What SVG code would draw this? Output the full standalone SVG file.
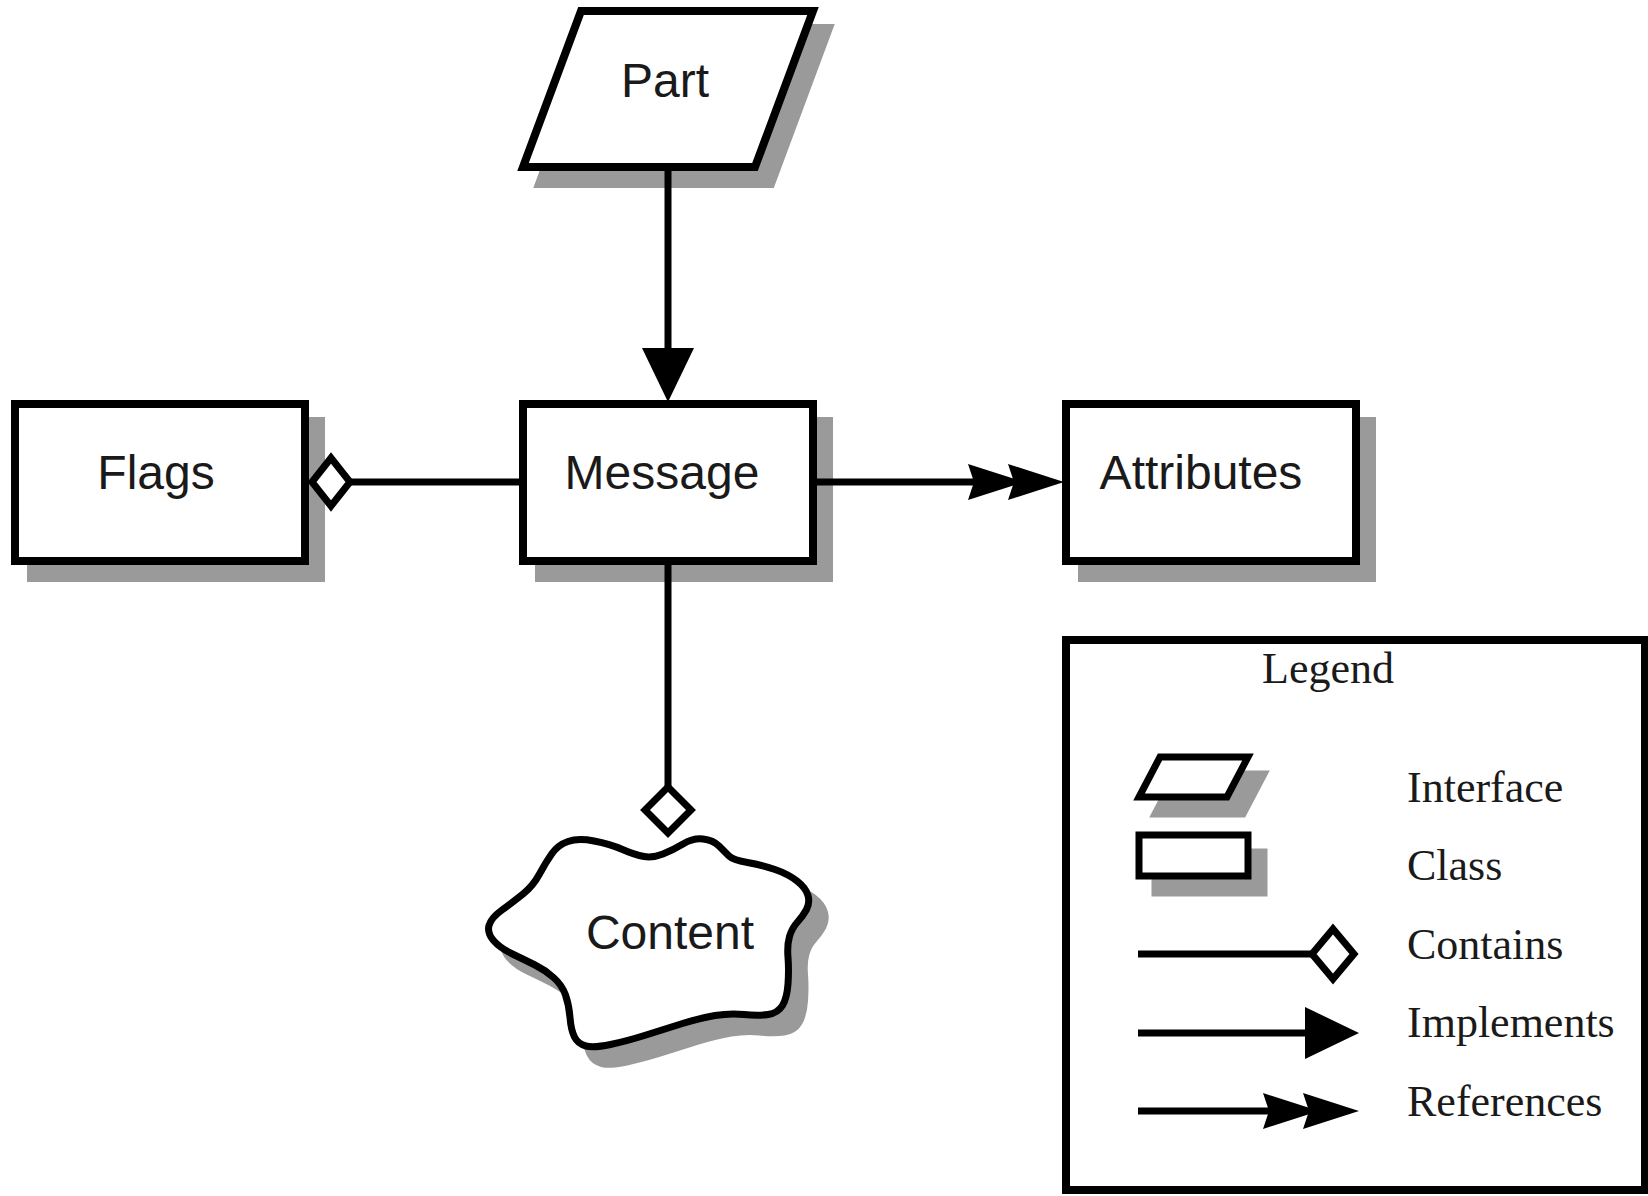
<svg xmlns="http://www.w3.org/2000/svg" xmlns:xlink="http://www.w3.org/1999/xlink" width="1648" height="1196" viewBox="0 0 1648 1196">
<style>
.shape{fill:#fff;stroke:#000;stroke-width:8;stroke-linejoin:miter}
.shadow{fill:#9a9a9a;stroke:#9a9a9a;stroke-width:8}
.conn{fill:none;stroke:#000;stroke-width:7}
.dia{fill:#fff;stroke:#000;stroke-width:7;stroke-linejoin:miter}
.head{fill:#000;stroke:none}
.lbl{font-family:"Liberation Sans",Arial,sans-serif;font-size:48px;fill:#1a1a1a;text-anchor:middle}
.leg{font-family:"Liberation Serif","Times New Roman",serif;font-size:44px;fill:#1a1a1a}
</style>
<defs>
<path id="refhead" d="M0,0 L-56,-18 L-50,0 L-56,18 Z"/>
<path id="imphead" d="M0,0 L-54,-26 L-54,26 Z"/>
<path id="cloud" d="M552 853.5 Q558 845 568 841.5 Q578 838 594 841 Q610 844 622.5 849.5 Q635 855 644 856.5 Q653 858 663 854 Q673 850 683 844 Q693 838 703 839 Q713 840 719 846 Q725 852 729 856 Q733 860 747.5 862.5 Q762 865 775 869.5 Q788 874 797 881 Q806 888 808 895.5 Q810 903 806.5 909.5 Q803 916 797.5 922 Q792 928 789.5 936.5 Q787 945 788 957.5 Q789 970 788 984 Q787 998 782.5 1005.5 Q778 1013 768 1014.5 Q758 1016 744 1014.5 Q730 1013 715 1015.5 Q700 1018 682.5 1023.5 Q665 1029 646 1035 Q627 1041 610.5 1044.5 Q594 1048 586 1046 Q578 1044 574.5 1037 Q571 1030 570 1017.5 Q569 1005 565.5 995 Q562 985 553.5 977.5 Q545 970 535 965 Q525 960 512.5 954 Q500 948 493.5 940.5 Q487 933 489 925.5 Q491 918 502 910 Q513 902 523 894 Q533 886 539.5 874 Q546 862 552 853.5 Z"/>
</defs>

<g id="part">
<polygon class="shadow" points="597,28 829,28 771,184 539,184"/>
<polygon class="shape" points="581,11 813,11 755,167 523,167"/>
<text class="lbl" x="665" y="97">Part</text>
</g>

<g id="flags">
<rect class="shadow" x="31" y="421" width="290" height="157"/>
<rect class="shape" x="15" y="404" width="290" height="157"/>
<text class="lbl" x="156" y="489">Flags</text>
</g>

<g id="message">
<rect class="shadow" x="539" y="421" width="290" height="157"/>
<rect class="shape" x="523" y="404" width="290" height="157"/>
<text class="lbl" x="662" y="489">Message</text>
</g>

<g id="attributes">
<rect class="shadow" x="1082" y="421" width="290" height="157"/>
<rect class="shape" x="1066" y="404" width="290" height="157"/>
<text class="lbl" x="1201" y="489">Attributes</text>
</g>

<g id="content">
<use xlink:href="#cloud" href="#cloud" class="shadow" transform="translate(16,17)"/>
<use xlink:href="#cloud" href="#cloud" class="shape" style="stroke-width:7"/>
<text class="lbl" x="670" y="949">Content</text>
</g>

<g id="connectors">
<line class="conn" x1="668" y1="167" x2="668" y2="360"/>
<use xlink:href="#imphead" href="#imphead" class="head" transform="translate(668,402) rotate(90)"/>
<line class="conn" x1="350" y1="482" x2="523" y2="482"/>
<polygon class="dia" points="312,482 331,458 350,482 331,506"/>
<line class="conn" x1="813" y1="482" x2="1010" y2="482"/>
<use xlink:href="#refhead" href="#refhead" class="head" transform="translate(1024,482)"/>
<use xlink:href="#refhead" href="#refhead" class="head" transform="translate(1064,482)"/>
<line class="conn" x1="668" y1="561" x2="668" y2="787"/>
<polygon class="dia" points="668,787 691,810 668,833 645,810"/>
</g>

<g id="legend">
<rect x="1066" y="640" width="579" height="550" fill="#fff" stroke="#000" stroke-width="8"/>
<text class="leg" x="1262" y="683">Legend</text>
<polygon class="shadow" points="1176,774 1264,774 1243,814 1155,814" style="stroke-width:7"/>
<polygon class="shape" points="1160,757 1248,757 1227,797 1139,797" style="stroke-width:7"/>
<text class="leg" x="1407" y="802">Interface</text>
<rect class="shadow" x="1155" y="852" width="109" height="41" style="stroke-width:7"/>
<rect class="shape" x="1139" y="835" width="109" height="41" style="stroke-width:7"/>
<text class="leg" x="1407" y="880">Class</text>
<line class="conn" x1="1138" y1="954" x2="1312" y2="954"/>
<polygon class="dia" points="1312,954 1333,929 1354,954 1333,979"/>
<text class="leg" x="1407" y="959">Contains</text>
<line class="conn" x1="1138" y1="1033" x2="1310" y2="1033"/>
<use xlink:href="#imphead" href="#imphead" class="head" transform="translate(1359,1033)"/>
<text class="leg" x="1407" y="1037">Implements</text>
<line class="conn" x1="1138" y1="1111" x2="1305" y2="1111"/>
<use xlink:href="#refhead" href="#refhead" class="head" transform="translate(1319,1111)"/>
<use xlink:href="#refhead" href="#refhead" class="head" transform="translate(1359,1111)"/>
<text class="leg" x="1407" y="1116">References</text>
</g>
</svg>
